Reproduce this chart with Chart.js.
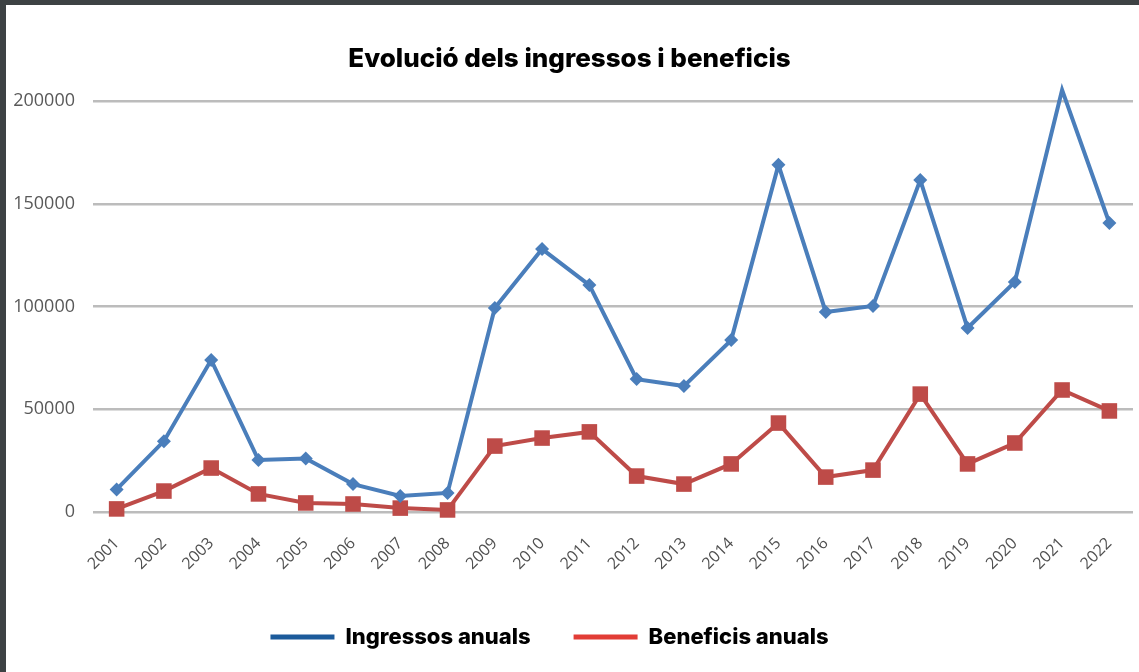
<!DOCTYPE html>
<html>
<head>
<meta charset="utf-8">
<script src="https://cdn.jsdelivr.net/npm/chart.js@4"></script>
<style>
  html, body { margin: 0; padding: 0; background: #3d4244; }
  #wrap { position: absolute; left: 6px; top: 5px; width: 1133px; height: 667px; background: #fff; }
  #chart { display: block; }
</style>
</head>
<body>
<div id="wrap"><canvas id="chart" width="1133" height="667"></canvas></div>
<script>
// Dades llegides del gràfic
const years = ['2001', '2002', '2003', '2004', '2005', '2006', '2007', '2008', '2009', '2010', '2011',
               '2012', '2013', '2014', '2015', '2016', '2017', '2018', '2019', '2020', '2021', '2022'];
const ingressos = [11000, 34500, 74000, 25300, 26000, 13600, 7800, 9300, 99300, 128000, 110500,
                   64700, 61300, 83700, 169000, 97400, 100300, 161600, 89600, 112000, 205500, 140700];
const beneficis = [1500, 10200, 21400, 8800, 4400, 3900, 1900, 1000, 32100, 36000, 39000,
                   17500, 13600, 23400, 43300, 17000, 20400, 57400, 23400, 33600, 59400, 49200];
const yTicks = [0, 50000, 100000, 150000, 200000];

// Colors
const blue = '#4a7ebb';
const red = '#be4b48';
const legendColors = ['#1c5b9b', '#e23d36'];

// La llegenda de l'original no està centrada del tot
const legendShift = {
    id: 'legendShift',
    afterLayout(chart) {
        chart.legend.left -= 20;
        chart.legend.right -= 20;
    }
};

const ctx = document.getElementById('chart').getContext('2d');
const chart = new Chart(ctx, {
    type: 'line',
    data: {
        labels: years,
        datasets: [{
            label: 'Ingressos anuals',
            data: ingressos,
            borderColor: blue,
            backgroundColor: blue,
            borderWidth: 4,
            pointStyle: 'rectRot',
            pointRadius: 7,
            pointBorderWidth: 0,
            tension: 0,
            clip: false
        }, {
            label: 'Beneficis anuals',
            data: beneficis,
            borderColor: red,
            backgroundColor: red,
            borderWidth: 4,
            pointStyle: 'rect',
            pointRadius: 11,
            pointBorderWidth: 0,
            tension: 0,
            clip: false
        }]
    },
    options: {
        responsive: false,
        animation: false,
        layout: { autoPadding: false, padding: { left: 0, right: 6, top: 0, bottom: 14 } },
        scales: {
            x: {
                offset: true,
                grid: { display: false, drawTicks: false },
                border: { display: false },
                ticks: {
                    color: '#505050',
                    font: { family: 'Open Sans', size: 16 },
                    minRotation: 45,
                    maxRotation: 45,
                    padding: 22
                },
                afterFit: (scale) => {
                    scale.height = 71;
                    scale.paddingLeft = 0;
                    scale.paddingRight = 0;
                }
            },
            y: {
                min: 0,
                max: 200000,
                afterBuildTicks: (scale) => { scale.ticks = yTicks.map(v => ({ value: v })); },
                grid: { color: '#bcbcbc', lineWidth: 2.5, drawTicks: false },
                border: { display: false },
                ticks: {
                    color: '#595959',
                    font: { family: 'Open Sans', size: 18 },
                    padding: 18,
                    callback: (v) => String(v)
                },
                afterFit: (scale) => { scale.width = 87; }
            }
        },
        plugins: {
            title: {
                display: true,
                text: 'Evolució dels ingressos i beneficis',
                color: '#000',
                font: { family: 'Inter', size: 26, weight: '800' },
                padding: { top: 39, bottom: 26 }
            },
            legend: {
                position: 'bottom',
                labels: {
                    boxWidth: 64,
                    boxHeight: 5,
                    padding: 43,
                    color: '#000',
                    font: { family: 'Inter', size: 22, weight: '800' },
                    generateLabels: (c) => c.data.datasets.map((ds, i) => ({
                        text: ds.label,
                        fillStyle: legendColors[i],
                        strokeStyle: legendColors[i],
                        lineWidth: 0,
                        datasetIndex: i,
                        hidden: false
                    }))
                }
            },
            tooltip: { enabled: false }
        }
    },
    plugins: [legendShift]
});
</script>
</body>
</html>
